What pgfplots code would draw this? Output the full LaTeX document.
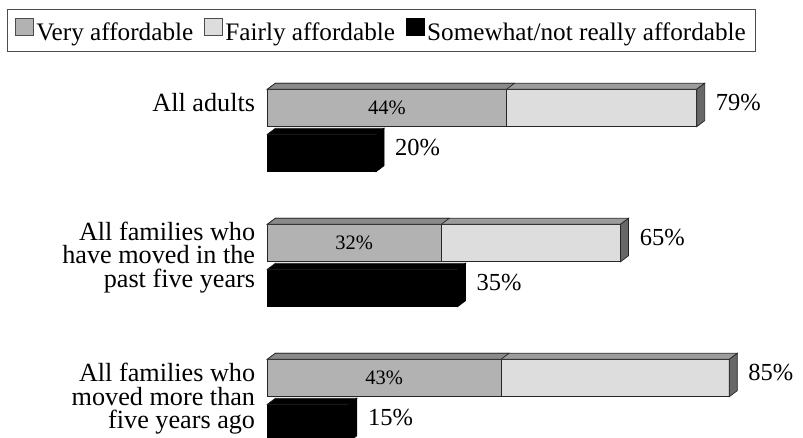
\documentclass[border=0pt]{standalone}
\usepackage{pgfplots}
\pgfplotsset{compat=1.18}
\usepackage{pgfplotstable}
\usepackage{fontspec}
\setmainfont{Liberation Serif}

\definecolor{midgray}{HTML}{B2B2B2}
\definecolor{palegray}{HTML}{DDDDDD}
\definecolor{midtop}{HTML}{8A8A8A}
\definecolor{paletop}{HTML}{9C9C9C}
\definecolor{sidegray}{HTML}{686868}

% an empty mark: the scatter code below draws the 3d faces
\pgfdeclareplotmark{nothing}{}

% x in percent, y = bar position (groups 3 units apart)
\pgfplotstableread{
pos val
0   44
-3  32
-6  43
}\very
\pgfplotstableread{
pos val
0   79
-3  65
-6  85
}\fairly
\pgfplotstableread{
pos val
-1  20
-4  35
-7  15
}\notaff

\pgfplotsset{
  front/.style={xbar, bar width=0.831, bar shift=0pt, forget plot,
    draw=black!85, line width=0.7pt},
  faces/.style n args={3}{forget plot, only marks, mark=nothing, scatter,
    visualization depends on={rawx \as \barlen},
    scatter/@pre marker code/.code={%
      \filldraw[fill=#1, draw=black!85, line width=0.7pt]
        (-\barlen*5.435pt,18.7pt) -- (-\barlen*5.435pt+8pt,24.7pt)
        -- (8pt,24.7pt) -- (0pt,18.7pt) -- cycle;
      \filldraw[fill=#2, draw=#3, line width=0.7pt]
        (0pt,-18.7pt) -- (8pt,-12.7pt) -- (8pt,24.7pt) -- (0pt,18.7pt) -- cycle;
    },
    scatter/@post marker code/.code={}},
  outval/.style={forget plot, only marks, mark=nothing, point meta=x,
    nodes near coords={\pgfmathprintnumber[assume math mode=true]{\pgfplotspointmeta}\%},
    every node near coord/.style={anchor=base west, inner sep=0pt,
      xshift=19pt, yshift=-2.5pt, text=black,
      font=\fontsize{24.5}{28}\selectfont}},
  inval/.style={forget plot, only marks, mark=nothing, point meta=x,
    visualization depends on={rawx \as \barlen},
    nodes near coords={\pgfmathprintnumber[assume math mode=true]{\pgfplotspointmeta}\%},
    every node near coord/.style={anchor=center, inner sep=0pt,
      xshift={-\barlen*5.435pt/2}, text=black,
      font=\fontsize{20.5}{24}\selectfont}},
}

\begin{document}
\begin{tikzpicture}
\begin{axis}[
    x=5.435pt, y=45pt,
    anchor=origin, at={(267.3pt,-108pt)},
    xmin=0, xmax=95, ymin=-7.5, ymax=0.6,
    clip=false,
    axis lines=left,
    axis line style={draw=none, -},
    xtick=\empty,
    ytick={0.12,-3.32,-6.46},
    yticklabels={All adults,
      {All families who\\have moved in the\\past five years},
      {All families who\\moved more than\\five years ago}},
    major tick length=0pt,
    yticklabel style={anchor=east, align=right, inner sep=0pt, xshift=-12pt,
      font=\fontsize{26.2}{23.6}\selectfont},
    legend columns=3,
    legend image code/.code={\draw[#1, line width=0.7pt] (0pt,-2.5pt) rectangle (18.5pt,14pt);},
    legend style={at={(-0.5047,1.1975)}, anchor=north west,
      draw=black!70, line width=0.8pt,
      inner xsep=7.5pt, inner ysep=9pt,
      font=\fontsize{25.2}{28}\selectfont,
      nodes={inner xsep=2.5pt, inner ysep=0pt},
      /tikz/every even column/.append style={column sep=8pt}},
  ]
  \addlegendimage{fill=midgray, draw=black!70}
  \addlegendentry{Very affordable}
  \addlegendimage{fill=palegray, draw=black!70}
  \addlegendentry{Fairly affordable}
  \addlegendimage{fill=black, draw=black}
  \addlegendentry{Somewhat/not really affordable}

  % somewhat / not really affordable
  \addplot[front, fill=black, draw=black] table[x=val, y=pos] {\notaff};
  \addplot[faces={black}{black}{black}] table[x=val, y=pos] {\notaff};
  \addplot[outval] table[x=val, y=pos] {\notaff};

  % very + fairly affordable (total bar)
  \addplot[front, fill=palegray] table[x=val, y=pos] {\fairly};
  \addplot[faces={paletop}{sidegray}{black!85}] table[x=val, y=pos] {\fairly};
  \addplot[outval] table[x=val, y=pos] {\fairly};

  % very affordable
  \addplot[front, fill=midgray] table[x=val, y=pos] {\very};
  \addplot[faces={midtop}{none}{none}] table[x=val, y=pos] {\very};
  \addplot[inval] table[x=val, y=pos] {\very};
\end{axis}
\pgfresetboundingbox
\path[use as bounding box] (0,0) rectangle (803pt,-438pt);
\end{tikzpicture}
\end{document}
